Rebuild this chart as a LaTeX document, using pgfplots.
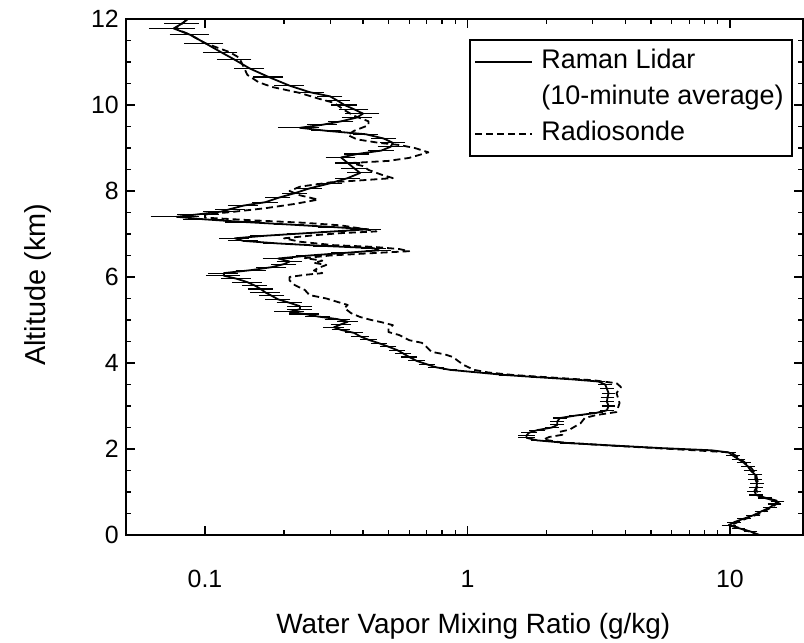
\documentclass[border=0pt]{standalone}
\usepackage{fontspec}
\setmainfont{Liberation Sans}
\usepackage{pgfplots}
\usepackage{pgfplotstable}
\pgfplotsset{compat=1.18}

% Raman lidar profile: altitude (km), mixing ratio (g/kg), relative error
\pgfplotstableread{
alt val err
0.00 12.8 0.03
0.08 12.0 0.03
0.16 10.8 0.03
0.23 9.9 0.03
0.30 10.4 0.03
0.38 11.3 0.03
0.46 12.3 0.03
0.55 13.2 0.03
0.64 14.2 0.03
0.72 14.8 0.03
0.78 15.2 0.03
0.86 13.6 0.03
0.93 12.6 0.03
1.02 12.4 0.03
1.10 12.6 0.03
1.20 12.7 0.03
1.30 12.5 0.03
1.40 12.5 0.03
1.50 12.0 0.03
1.60 11.7 0.03
1.68 11.3 0.03
1.76 10.8 0.03
1.84 10.3 0.03
1.92 9.9 0.03
1.97 8.5 0.03
2.02 5.5 0.03
2.08 3.6 0.03
2.14 2.4 0.03
2.20 1.85 0.03
2.26 1.68 0.04
2.32 1.68 0.04
2.38 1.72 0.04
2.44 1.85 0.04
2.50 2.1 0.03
2.56 2.2 0.03
2.64 2.2 0.03
2.72 2.25 0.03
2.78 2.6 0.03
2.84 3.1 0.03
2.90 3.4 0.03
3.00 3.45 0.03
3.10 3.40 0.03
3.20 3.42 0.03
3.30 3.45 0.03
3.40 3.40 0.03
3.50 3.35 0.03
3.57 3.15 0.03
3.62 2.5 0.03
3.67 1.85 0.03
3.72 1.4 0.03
3.78 1.1 0.03
3.84 0.86 0.03
3.90 0.76 0.04
3.97 0.70 0.04
4.05 0.64 0.04
4.14 0.60 0.04
4.22 0.57 0.04
4.30 0.54 0.04
4.38 0.50 0.04
4.46 0.46 0.04
4.54 0.42 0.04
4.62 0.39 0.05
4.70 0.37 0.05
4.77 0.33 0.05
4.83 0.31 0.06
4.90 0.33 0.06
4.96 0.35 0.06
5.02 0.32 0.08
5.08 0.27 0.08
5.14 0.24 0.1
5.19 0.21 0.1
5.25 0.23 0.08
5.32 0.23 0.08
5.40 0.21 0.08
5.48 0.19 0.08
5.56 0.18 0.08
5.64 0.17 0.1
5.72 0.163 0.08
5.80 0.155 0.08
5.88 0.145 0.1
5.96 0.132 0.1
6.03 0.118 0.12
6.09 0.118 0.1
6.16 0.15 0.1
6.23 0.18 0.1
6.30 0.20 0.08
6.36 0.21 0.08
6.43 0.19 0.1
6.50 0.25 0.08
6.56 0.34 0.08
6.62 0.46 0.08
6.67 0.44 0.08
6.72 0.29 0.08
6.78 0.19 0.1
6.84 0.14 0.1
6.90 0.13 0.1
6.96 0.17 0.1
7.01 0.23 0.08
7.06 0.31 0.08
7.11 0.42 0.08
7.16 0.31 0.1
7.22 0.21 0.1
7.28 0.14 0.12
7.34 0.10 0.15
7.40 0.078 0.18
7.46 0.095 0.15
7.52 0.115 0.12
7.58 0.125 0.1
7.66 0.14 0.1
7.74 0.17 0.08
7.84 0.19 0.08
7.95 0.22 0.08
8.06 0.25 0.08
8.18 0.30 0.08
8.30 0.35 0.08
8.42 0.39 0.08
8.53 0.37 0.08
8.65 0.35 0.08
8.78 0.33 0.1
8.86 0.38 0.08
8.94 0.47 0.08
9.03 0.51 0.08
9.12 0.52 0.08
9.22 0.48 0.08
9.32 0.41 0.08
9.40 0.29 0.1
9.47 0.23 0.15
9.54 0.28 0.1
9.62 0.33 0.08
9.71 0.38 0.1
9.80 0.40 0.12
9.90 0.37 0.1
10.00 0.34 0.08
10.10 0.32 0.08
10.20 0.30 0.08
10.30 0.25 0.1
10.45 0.21 0.1
10.65 0.175 0.1
10.85 0.148 0.1
11.05 0.130 0.12
11.23 0.115 0.12
11.44 0.100 0.14
11.63 0.088 0.14
11.78 0.076 0.17
11.90 0.082 0.12
12.00 0.086 0.12
}\lidar

% radiosonde profile: altitude (km), mixing ratio (g/kg)
\pgfplotstableread{
alt val
0.00 13.0
0.10 11.6
0.23 10.1
0.35 11.2
0.50 13.0
0.65 14.5
0.78 15.5
0.90 13.0
1.05 12.6
1.20 12.8
1.40 12.6
1.55 12.1
1.67 11.5
1.80 10.8
1.92 10.1
2.00 6.0
2.08 3.5
2.15 2.3
2.22 1.95
2.28 2.05
2.33 2.3
2.40 2.25
2.45 2.45
2.60 2.7
2.72 2.8
2.79 3.1
2.86 3.7
3.07 3.8
3.30 3.7
3.44 3.85
3.53 3.7
3.60 3.0
3.67 2.0
3.72 1.5
3.78 1.2
3.84 1.06
3.95 0.97
4.05 0.92
4.14 0.88
4.20 0.82
4.26 0.73
4.37 0.70
4.47 0.67
4.53 0.60
4.65 0.55
4.72 0.50
4.80 0.50
4.88 0.52
4.95 0.47
5.00 0.43
5.07 0.39
5.16 0.36
5.28 0.34
5.35 0.35
5.42 0.32
5.50 0.29
5.58 0.25
5.70 0.24
5.81 0.22
5.92 0.21
6.00 0.21
6.05 0.24
6.09 0.28
6.15 0.26
6.21 0.27
6.28 0.29
6.33 0.26
6.38 0.28
6.44 0.24
6.50 0.30
6.56 0.45
6.60 0.60
6.65 0.55
6.70 0.44
6.74 0.31
6.82 0.23
6.90 0.20
6.97 0.26
7.02 0.33
7.06 0.45
7.12 0.40
7.20 0.33
7.26 0.24
7.32 0.15
7.38 0.10
7.45 0.10
7.52 0.13
7.60 0.17
7.70 0.22
7.80 0.27
7.90 0.23
8.00 0.21
8.10 0.23
8.20 0.30
8.26 0.42
8.30 0.52
8.38 0.47
8.49 0.42
8.58 0.40
8.65 0.36
8.70 0.50
8.77 0.60
8.90 0.71
9.00 0.63
9.07 0.55
9.12 0.46
9.20 0.38
9.30 0.35
9.40 0.37
9.53 0.42
9.62 0.42
9.75 0.37
9.88 0.34
10.05 0.31
10.15 0.27
10.28 0.23
10.42 0.18
10.53 0.16
10.70 0.145
10.90 0.14
11.10 0.135
11.23 0.124
11.44 0.100
11.63 0.088
11.78 0.077
11.90 0.082
12.00 0.086
}\sonde

\begin{document}
\begin{tikzpicture}
\begin{axis}[
    at={(126bp,108bp)}, anchor=south west,
    scale only axis, width=677bp, height=516bp,
    xmode=log, xmin=0.05, xmax=19,
    ymin=0, ymax=12,
    xtick={0.1,1,10}, xticklabels={0.1,1,10},
    ytick={0,2,...,12}, minor y tick num=3,
    /pgf/number format/assume math mode=true,
    tick align=inside,
    major tick length=9bp, minor tick length=5bp,
    every tick/.style={black, line width=1.3bp},
    axis line style={line width=2bp},
    tick label style={font=\fontsize{25}{29}\selectfont, inner sep=0pt},
    xticklabel style={yshift=-35bp},
    yticklabel style={xshift=-7bp},
    xlabel={Water Vapor Mixing Ratio (g/kg)},
    ylabel={Altitude (km)},
    xlabel style={at={(axis description cs:0.513,-0.176)}, anchor=center,
        font=\fontsize{28}{33}\selectfont},
    ylabel style={at={(axis description cs:-0.13,0.485)}, anchor=center,
        font=\fontsize{29}{34}\selectfont},
    legend cell align=left,
    legend style={at={(rel axis cs:0.985,0.961)}, anchor=north east,
        draw=black, line width=1.4bp, inner sep=4bp, row sep=0pt,
        column sep=4bp,
        font=\fontsize{27}{32}\selectfont,
        nodes={inner sep=4.5bp, text height=20bp, text depth=7bp}},
    legend image code/.code={\draw[#1] (0bp,0bp) -- (57bp,0bp);},
]
\addplot[black, line width=1.8bp, line join=round,
    error bars/.cd, x dir=both, x explicit relative,
    error bar style={line width=1.1bp},
    error mark options={line width=1.1bp, mark size=3.5bp}]
    table[x=val, y=alt, x error=err] {\lidar};
\addlegendentry{Raman Lidar}
\addlegendimage{empty legend}
\addlegendentry{(10-minute average)}
\addplot[black, line width=1.8bp, line join=round, dash pattern=on 7bp off 4bp]
    table[x=val, y=alt] {\sonde};
\addlegendentry{Radiosonde}
\end{axis}
\pgfresetboundingbox
\useasboundingbox (0,0) rectangle (804bp,643bp);
\end{tikzpicture}
\end{document}
